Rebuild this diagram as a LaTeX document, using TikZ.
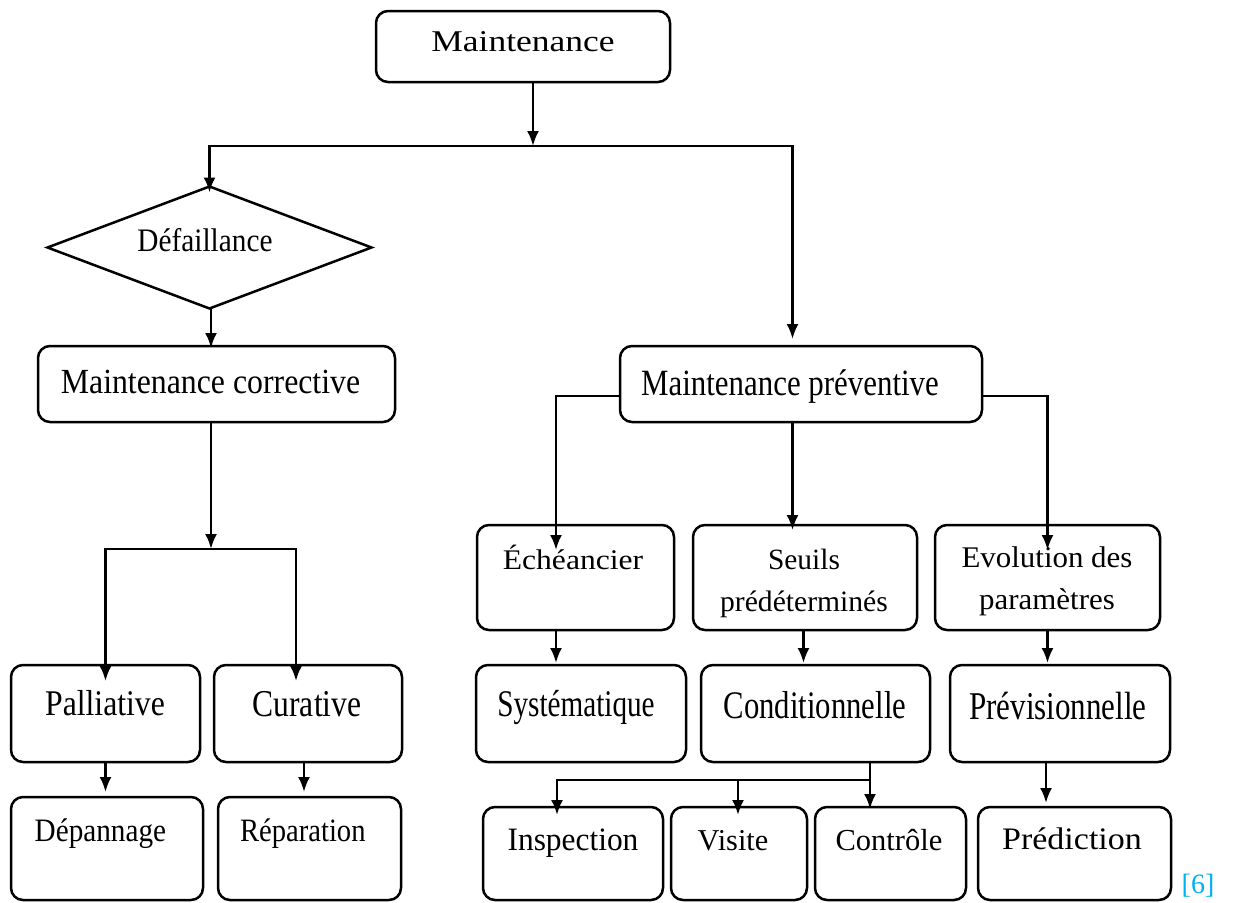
\documentclass[tikz,border=0pt]{standalone}
\usepackage{graphicx}
\usepackage{fontspec}
\setmainfont{Liberation Serif}
\usetikzlibrary{arrows.meta,shapes.geometric}
\definecolor{refblue}{RGB}{0,176,240}
\newcommand{\lbl}[3]{\scalebox{1}[#2]{\fontsize{#1}{#1}\selectfont #3}}
\begin{document}
\begin{tikzpicture}[x=1pt,y=-1pt,
  box/.style={draw, line width=2.5pt, rounded corners=12pt, inner sep=0pt, outer sep=0pt},
  arr/.style={line width=2.5pt, -{Latex[length=15pt,width=12pt]}},
  txt/.style={anchor=base, inner sep=0pt}]
\useasboundingbox (0,0) rectangle (1236,902);

% boxes
\node[box, minimum width=294, minimum height=71] (top) at (523,46.5) {};
\node[draw, line width=2.5pt, diamond, minimum width=324, minimum height=122, inner sep=0pt, outer sep=0pt] (dia) at (209.5,247.5) {};
\node[box, minimum width=357, minimum height=76] (mc) at (216.5,384) {};
\node[box, minimum width=362, minimum height=76] (mp) at (801,384) {};
\node[box, minimum width=197, minimum height=105] (ech) at (575.5,577.5) {};
\node[box, minimum width=224, minimum height=105] (seu) at (805,577.5) {};
\node[box, minimum width=225, minimum height=105] (evo) at (1047.5,577.5) {};
\node[box, minimum width=189, minimum height=97] (pal) at (105.5,713.5) {};
\node[box, minimum width=188, minimum height=97] (cur) at (308,713.5) {};
\node[box, minimum width=210, minimum height=97] (sys) at (581,713.5) {};
\node[box, minimum width=229, minimum height=97] (con) at (815.5,713.5) {};
\node[box, minimum width=220, minimum height=97] (prv) at (1060,713.5) {};
\node[box, minimum width=192, minimum height=103] (dep) at (107,848.5) {};
\node[box, minimum width=183, minimum height=103] (rep) at (309.5,848.5) {};
\node[box, minimum width=180, minimum height=93] (ins) at (573,853.5) {};
\node[box, minimum width=136, minimum height=93] (vis) at (739,853.5) {};
\node[box, minimum width=151, minimum height=93] (ctl) at (890.5,853.5) {};
\node[box, minimum width=193, minimum height=93] (pre) at (1074.5,853.5) {};

% texts
\node[txt] (tTop) at (523,51.7) {\lbl{35.5}{0.85}{Maintenance}};
\node[txt] (tDia) at (205,251.7) {\lbl{29.3}{1.12}{Défaillance}};
\node[txt] (tMc) at (210.5,393) {\lbl{31.8}{1.11}{Maintenance corrective}};
\node[txt] (tMp) at (790,395) {\lbl{30.9}{1.2}{Maintenance préventive}};
\node[txt] (tPal) at (105,715.7) {\lbl{31.7}{1.14}{Palliative}};
\node[txt] (tCur) at (307,716.7) {\lbl{31.6}{1.2}{Curative}};
\node[txt] (tDep) at (100.4,841.7) {\lbl{29.2}{1.12}{Dépannage}};
\node[txt] (tRep) at (302.8,841.7) {\lbl{28.6}{1.14}{Réparation}};
\node[txt] (tEch) at (573,569.3) {\lbl{31.6}{0.9}{Échéancier}};
\node[txt] (tSys) at (576,716.7) {\lbl{29.2}{1.29}{Systématique}};
\node[txt] (tSeu1) at (804,569) {\lbl{29.4}{1.0}{Seuils}};
\node[txt] (tSeu2) at (804,611.7) {\lbl{29.6}{1.0}{prédéterminés}};
\node[txt] (tEvo1) at (1047,567.3) {\lbl{30.9}{0.97}{Evolution des}};
\node[txt] (tEvo2) at (1047,609) {\lbl{30.9}{0.97}{paramètres}};
\node[txt] (tCon) at (815,718.3) {\lbl{30.7}{1.27}{Conditionnelle}};
\node[txt] (tPrv) at (1058,719.3) {\lbl{31}{1.27}{Prévisionnelle}};
\node[txt] (tIns) at (573,850) {\lbl{31.4}{1.04}{Inspection}};
\node[txt] (tVis) at (733,850) {\lbl{30.3}{1.0}{Visite}};
\node[txt] (tCtl) at (889,850) {\lbl{30.5}{1.0}{Contrôle}};
\node[txt] (tPre) at (1072,849.3) {\lbl{34}{0.92}{Prédiction}};
\node[txt, text=refblue] (ref) at (1198,893) {\lbl{28}{1.0}{[6]}};

% junctions
\coordinate (jA) at (533,146);
\coordinate (jB) at (211,549);
\coordinate (jC) at (870,780);

% connectors
\draw[arr] (top.south -| jA) -- (jA);
\draw[arr] (jA) -| ([yshift=-6pt]dia.north);
\draw[arr] (jA) -| ([xshift=-8.5pt,yshift=7pt]mp.north);
\draw[arr] ([xshift=1.5pt]dia.south) -- ([xshift=1.5pt,yshift=-2pt]dia.south |- mc.north);
\draw[arr] (mc.south -| jB) -- (jB);
\draw[arr] (jB) -| ([yshift=-16pt]pal.north);
\draw[arr] (jB) -| ([xshift=-12pt,yshift=-16pt]cur.north);
\draw[arr] (pal.south) -- ([yshift=5pt]pal.south |- dep.north);
\draw[arr] ([xshift=-4pt]cur.south) -- ([xshift=-4pt,yshift=5pt]cur.south |- rep.north);
\draw[arr] ([yshift=-12pt]mp.west) -| ([xshift=-19.5pt,yshift=-25pt]ech.north);
\draw[arr] ([yshift=-12pt]mp.east) -| ([yshift=-25pt]evo.north);
\draw[arr] ([xshift=-8.5pt]mp.south) -- ([xshift=-8.5pt,yshift=-5pt]mp.south |- seu.north);
\draw[arr] ([xshift=-19.5pt]ech.south) -- ([xshift=-19.5pt,yshift=2pt]ech.south |- sys.north);
\draw[arr] ([xshift=-1.5pt]seu.south) -- ([xshift=-1.5pt,yshift=2pt]seu.south |- con.north);
\draw[arr] (evo.south) -- ([yshift=2pt]evo.south |- prv.north);
\draw[arr] (con.south -| jC) -- ([yshift=-2pt]jC |- ctl.north);
\draw[arr] (jC) -| ([xshift=-16pt,yshift=-8pt]ins.north);
\draw[arr] ([xshift=-1pt]vis.north |- jC) -- ([xshift=-1pt,yshift=-8pt]vis.north);
\draw[arr] ([xshift=-14pt]prv.south) -- ([xshift=-14pt,yshift=4pt]prv.south |- pre.north);
\end{tikzpicture}
\end{document}
